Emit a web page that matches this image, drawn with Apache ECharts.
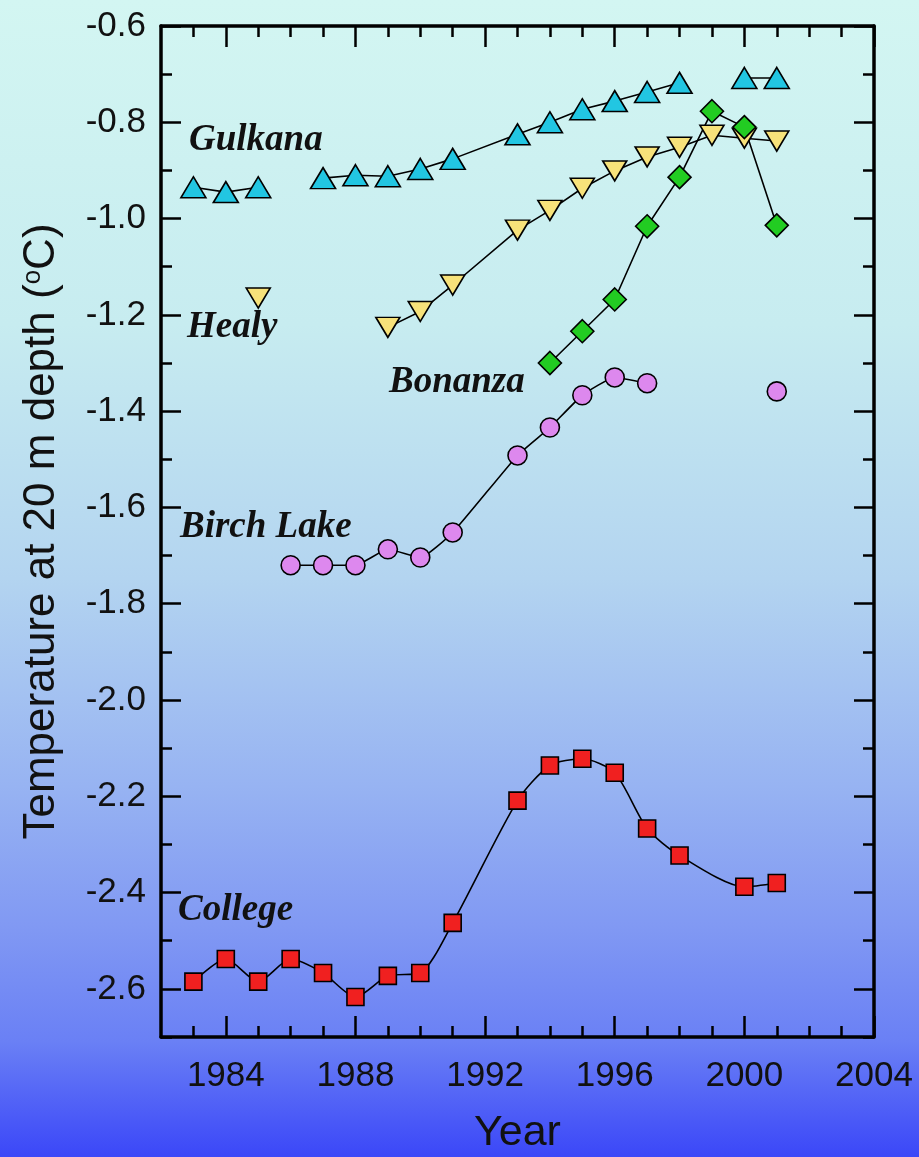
<!DOCTYPE html>
<html>
<head>
<meta charset="utf-8">
<script src="https://cdn.jsdelivr.net/npm/echarts@6/dist/echarts.min.js"></script>
<style>
html,body{margin:0;padding:0;}
#chart{width:919px;height:1157px;background:linear-gradient(to bottom,#d3f6f2 0%,#c7ecf0 28%,#b3d4f0 50%,#97b3f2 68%,#8199f3 80%,#6a80f5 90%,#3b47f8 100%);}
</style>
</head>
<body>
<div id="chart"></div>
<script>
// ---- data ----
const gulkanaYears = [1983, 1984, 1985, 1986, 1987, 1988, 1989, 1990, 1991, 1993, 1994, 1995, 1996, 1997, 1998, 1999, 2000, 2001];
const gulkanaTemps = [-0.935, -0.945, -0.935, null, -0.916, -0.910, -0.912, -0.897, -0.876, -0.825, -0.800, -0.773, -0.756, -0.737, -0.718, null, -0.708, -0.708];

const healyYears = [1985, 1986, 1989, 1990, 1991, 1993, 1994, 1995, 1996, 1997, 1998, 1999, 2000, 2001];
const healyTemps = [-1.165, null, -1.226, -1.193, -1.138, -1.024, -0.983, -0.937, -0.901, -0.872, -0.852, -0.827, -0.833, -0.839];

const bonanzaYears = [1994, 1995, 1996, 1997, 1998, 1999, 2000, 2001];
const bonanzaTemps = [-1.300, -1.234, -1.168, -1.016, -0.914, -0.777, -0.810, -1.014];

const birchYears = [1986, 1987, 1988, 1989, 1990, 1991, 1993, 1994, 1995, 1996, 1997, 1998, 2001];
const birchTemps = [-1.720, -1.720, -1.720, -1.687, -1.704, -1.652, -1.492, -1.434, -1.367, -1.330, -1.342, null, -1.359];

const collegeYears = [1983, 1984, 1985, 1986, 1987, 1988, 1989, 1990, 1991, 1993, 1994, 1995, 1996, 1997, 1998, 2000, 2001];
const collegeTemps = [-2.585, -2.538, -2.585, -2.538, -2.567, -2.617, -2.573, -2.567, -2.463, -2.209, -2.136, -2.122, -2.151, -2.267, -2.323, -2.388, -2.380];

// ---- ticks ----
const xMajorTicks = [1984, 1988, 1992, 1996, 2000, 2004];
const xMinorTicks = [1983, 1984, 1985, 1986, 1987, 1988, 1989, 1990, 1991, 1992, 1993, 1994, 1995, 1996, 1997, 1998, 1999, 2000, 2001, 2002, 2003];
const yMajorTicks = [-2.6, -2.4, -2.2, -2.0, -1.8, -1.6, -1.4, -1.2, -1.0, -0.8, -0.6];
const yMinorTicks = [-2.7, -2.6, -2.5, -2.4, -2.3, -2.2, -2.1, -2.0, -1.9, -1.8, -1.7, -1.6, -1.5, -1.4, -1.3, -1.2, -1.1, -1.0, -0.9, -0.8, -0.7, -0.6];

const seriesNames = ['Gulkana', 'Healy', 'Bonanza', 'Birch Lake', 'College'];

function pairs(xs, ys) {
  return xs.map((x, i) => [x, ys[i] === null ? '-' : ys[i]]);
}

const chart = echarts.init(document.getElementById('chart'), null, {renderer: 'canvas'});
const black = '#000';
const axisLineStyle = {color: black, width: 3.5};
const sans = '"Liberation Sans", Arial, sans-serif';

function xAx(pos, ticks, len, withLabels, showLine) {
  return {
    type: 'value', position: pos, min: 1982, max: 2004, gridIndex: 0,
    axisLine: {show: showLine, onZero: false, lineStyle: axisLineStyle},
    axisTick: {show: true, inside: true, length: len, customValues: ticks, lineStyle: {color: black, width: 2.5}},
    axisLabel: withLabels ? {show: true, customValues: xMajorTicks, margin: 22, fontSize: 35, color: '#111', fontFamily: sans,
      formatter: v => String(Math.round(v))} : {show: false},
    splitLine: {show: false},
    name: withLabels ? 'Year' : '',
    nameLocation: 'middle', nameGap: 75,
    nameTextStyle: {fontSize: 43, color: '#111', fontFamily: sans}
  };
}
function yAx(pos, ticks, len, withLabels, showLine) {
  return {
    type: 'value', position: pos, min: -2.7, max: -0.6, gridIndex: 0,
    axisLine: {show: showLine, onZero: false, lineStyle: axisLineStyle},
    axisTick: {show: true, inside: true, length: len, customValues: ticks, lineStyle: {color: black, width: 2.5}},
    axisLabel: withLabels ? {show: true, customValues: yMajorTicks, margin: 15, fontSize: 35, color: '#111',
      fontFamily: sans, formatter: v => v.toFixed(1)} : {show: false},
    splitLine: {show: false},
    name: withLabels ? '{n|Temperature at 20 m depth (}{s|o}{n|C)}' : '',
    nameLocation: 'middle', nameGap: 97, nameRotate: 90,
    nameTextStyle: {
      rich: {
        n: {fontSize: 44, color: '#111', fontFamily: sans},
        s: {fontSize: 26, color: '#111', fontFamily: sans, verticalAlign: 'top', padding: [0, 0, 14, 0]}
      }
    }
  };
}

const lineStyle = {color: black, width: 1.6};
function mkSeries(name, xs, ys, symbol, size, color, extra) {
  return Object.assign({
    name: name, type: 'line', xAxisIndex: 0, yAxisIndex: 0,
    data: pairs(xs, ys), symbol: symbol, symbolSize: size, showAllSymbol: true,
    connectNulls: false,
    lineStyle: lineStyle,
    itemStyle: {color: color, borderColor: black, borderWidth: 1.6},
    emphasis: {disabled: true},
    animation: false
  }, extra || {});
}

const labelFont = 'italic bold 37px "Liberation Serif", "Times New Roman", serif';
function lbl(text, x, y) {
  return {type: 'text', left: x, top: y, z: 100, style: {text: text, font: labelFont, fill: '#111'}};
}

chart.setOption({
  animation: false,
  backgroundColor: 'transparent',
  grid: {left: 161, top: 26, right: 45, bottom: 120, containLabel: false, outerBoundsMode: 'none', show: false},
  xAxis: [
    xAx('bottom', xMajorTicks, 21, true, true),
    xAx('bottom', xMinorTicks, 11, false, false),
    xAx('top', xMajorTicks, 21, false, true),
    xAx('top', xMinorTicks, 11, false, false)
  ],
  yAxis: [
    yAx('left', yMajorTicks, 20, true, true),
    yAx('left', yMinorTicks, 11, false, false),
    yAx('right', yMajorTicks, 20, false, true),
    yAx('right', yMinorTicks, 11, false, false)
  ],
  series: [
    mkSeries(seriesNames[4], collegeYears, collegeTemps, 'rect', 17, '#f02020', {smooth: 0.25}),
    mkSeries(seriesNames[3], birchYears, birchTemps, 'circle', 19, '#dd88ee', {smooth: 0.15}),
    mkSeries(seriesNames[1], healyYears, healyTemps, 'triangle', [24, 20], '#f7e27a', {symbolRotate: 180}),
    mkSeries(seriesNames[2], bonanzaYears, bonanzaTemps, 'diamond', 23, '#22cc22'),
    mkSeries(seriesNames[0], gulkanaYears, gulkanaTemps, 'triangle', [25, 21], '#22c6e2')
  ],
  graphic: [
    lbl(seriesNames[0], 189, 122),
    lbl(seriesNames[1], 187, 309),
    lbl(seriesNames[2], 389, 364),
    lbl(seriesNames[3], 180, 509),
    lbl(seriesNames[4], 178, 892)
  ]
});
</script>
</body>
</html>
